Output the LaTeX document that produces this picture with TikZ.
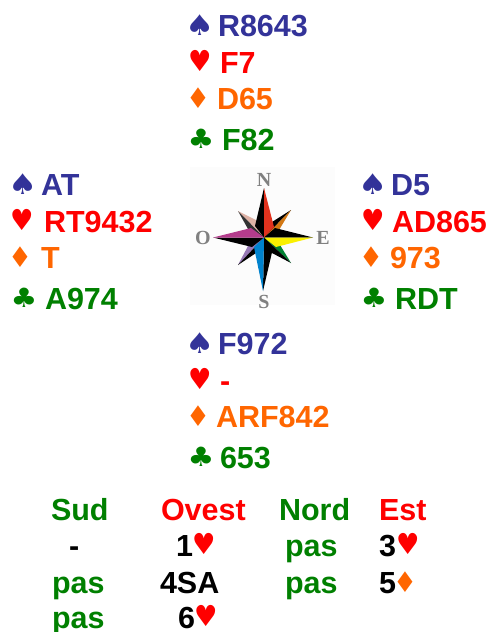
\documentclass[tikz,border=0pt]{standalone}
\usepackage{fontspec}
\usepackage{graphicx}
\setmainfont{Liberation Sans}
\newfontfamily\suitfont{DejaVu Sans}
\newfontfamily\rosefont{Liberation Serif}
\definecolor{cblue}{RGB}{51,51,153}
\definecolor{cred}{RGB}{255,0,0}
\definecolor{corange}{RGB}{255,102,0}
\definecolor{cgreen}{RGB}{0,128,0}
\definecolor{rosered}{RGB}{225,50,30}
\definecolor{roseorange}{RGB}{210,120,20}
\definecolor{rosepink}{RGB}{222,178,165}
\definecolor{rosepurple}{RGB}{150,120,180}
\definecolor{rosegreen}{RGB}{0,130,50}
\definecolor{roseblue}{RGB}{0,130,205}
\definecolor{rosemagenta}{RGB}{180,60,140}
\definecolor{roseyellow}{RGB}{250,240,0}
\tikzset{
  x=1pt,y=-1pt,
  txt/.style={anchor=base west,inner sep=0pt,outer sep=0pt,font=\fontsize{30.5}{30.5}\selectfont\bfseries},
  suit/.style={anchor=base west,inner sep=0pt,outer sep=0pt,font=\fontsize{29}{29}\selectfont\suitfont},
  rose/.style={inner sep=0pt,text=black!50,font=\fontsize{20}{20}\selectfont\rosefont\bfseries},
}
\newcommand{\Sp}{\hspace*{-3.5pt}\raisebox{1pt}{\scalebox{1.12}[0.98]{♠}}}
\newcommand{\He}{\hspace*{-1pt}\raisebox{2pt}{\scalebox{0.9}[1.0]{♥}}}
\newcommand{\Di}{\hspace*{-3pt}\raisebox{0.5pt}{\scalebox{0.92}[0.98]{♦}}}
\newcommand{\Cl}{\hspace*{-1.5pt}\raisebox{1.5pt}{\scalebox{1.03}[0.92]{♣}}}
\newcommand{\hand}[7]{%
  \node[suit,text=cblue] (#1s) at (#2,#3) {\Sp};
  \node[suit,text=cred] (#1h) at (#2,#3+37) {\He};
  \node[suit,text=corange] (#1d) at (#2,#3+73) {\Di};
  \node[suit,text=cgreen] (#1c) at (#2,#3+114) {\Cl};
  \handtext{#1a}{cblue}{#3}#4;
  \handtext{#1b}{cred}{#3+37}#5;
  \handtext{#1e}{corange}{#3+73}#6;
  \handtext{#1f}{cgreen}{#3+114}#7;
}
\def\handtext#1#2#3#4/#5;{\node[txt,text=#2] (#1) at (#4,#3) {#5};}
\begin{document}
\begin{tikzpicture}
\useasboundingbox (0,0) rectangle (491,632);
\fill[white] (0,0) rectangle (491,632);
\fill[black!1] (190,167) rectangle (335,305);
\coordinate (c) at (264,237.5);
% diagonal points
\fill[black] (291,210) -- (272,222) -- (c) -- cycle;
\fill[roseorange] (291,210) -- (279,230) -- (c) -- cycle;
\fill[rosepink] (238,211) -- (256,220) -- (c) -- cycle;
\fill[black!80] (238,211) -- (248,229) -- (c) -- cycle;
\fill[rosepurple] (238,265) -- (248,246) -- (c) -- cycle;
\fill[black] (238,265) -- (256,253) -- (c) -- cycle;
\fill[rosegreen] (291,263) -- (280,245) -- (c) -- cycle;
\fill[black] (291,263) -- (272,253) -- (c) -- cycle;
% main points
\fill[black] (264,188) -- (255,226) -- (c) -- cycle;
\fill[rosered] (264,188) -- (274,227) -- (c) -- cycle;
\fill[black] (313,237.5) -- (275,228) -- (c) -- cycle;
\fill[roseyellow] (313,237.5) -- (276,247) -- (c) -- cycle;
\fill[black] (263,291) -- (273,248) -- (c) -- cycle;
\fill[roseblue] (263,291) -- (254,247) -- (c) -- cycle;
\fill[black] (213,237.5) -- (252,247) -- (c) -- cycle;
\fill[rosemagenta] (213,237.5) -- (251,228) -- (c) -- cycle;
\node[rose] (n) at (264,180) {N};
\node[rose] (o) at (203,238) {O};
\node[rose] (e) at (323,238) {E};
\node[rose] (s) at (264,302) {S};
% hands
\hand{north}{189}{36}{218/R8643}{220/F7}{217/D65}{222/F82}
\hand{west}{12}{195}{41/AT}{44/RT9432}{41/T}{45/A974}
\hand{east}{362}{195}{391/D5}{392/AD865}{390/973}{395/RDT}
\hand{south}{189}{354}{218/F972}{220/-}{216/ARF842}{220/653}
% bidding
\node[txt,text=cgreen] (b1) at (51,520) {Sud};
\node[txt,text=cred] (b2) at (161,520) {Ovest};
\node[txt,text=cgreen] (b3) at (279,520) {Nord};
\node[txt,text=cred] (b4) at (379,520) {Est};
\node[txt] (b5) at (69,556) {-};
\node[txt] (b6) at (176,556) {1};
\node[suit,text=cred] (b6s) at (193,556) {\He};
\node[txt,text=cgreen] (b7) at (285,556) {pas};
\node[txt] (b8) at (379,556) {3};
\node[suit,text=cred] (b8s) at (397,556) {\He};
\node[txt,text=cgreen] (b9) at (52,593) {pas};
\node[txt] (b10) at (160,593) {4SA};
\node[txt,text=cgreen] (b11) at (285,593) {pas};
\node[txt] (b12) at (379,593) {5};
\node[suit,text=corange] (b12s) at (396,593) {\Di};
\node[txt,text=cgreen] (b13) at (52,628) {pas};
\node[txt] (b14) at (178,628) {6};
\node[suit,text=cred] (b14s) at (195,628) {\He};
\end{tikzpicture}
\end{document}
